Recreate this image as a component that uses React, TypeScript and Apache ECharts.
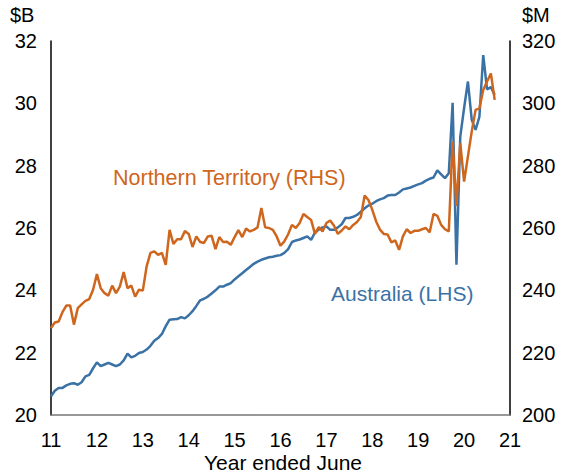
import React, { useEffect, useRef } from "react";
import * as echarts from "echarts";

// Monthly observations; index 0 = start of year label 11
const START_YEAR = 11;
const X_TICKS = [11, 12, 13, 14, 15, 16, 17, 18, 19, 20, 21];
const LEFT_TICKS = [20, 22, 24, 26, 28, 30, 32];
const RIGHT_TICKS = [200, 220, 240, 260, 280, 300, 320];

// Australia ($B, LHS)
const australia = [
  20.6, 20.78, 20.87, 20.87, 20.95, 21.0, 21.02, 20.97, 21.05, 21.24,
  21.29, 21.5, 21.69, 21.57, 21.62, 21.67, 21.62, 21.57, 21.62, 21.75,
  21.97, 21.85, 21.9, 21.99, 22.02, 22.1, 22.22, 22.38, 22.47, 22.6,
  22.85, 23.06, 23.07, 23.08, 23.14, 23.1, 23.2, 23.33, 23.5, 23.68,
  23.73, 23.8, 23.9, 24.0, 24.12, 24.12, 24.18, 24.23, 24.35, 24.45,
  24.55, 24.65, 24.75, 24.85, 24.92, 24.98, 25.02, 25.06, 25.08, 25.11,
  25.13, 25.2, 25.32, 25.55, 25.6, 25.63, 25.68, 25.73, 25.62, 25.85,
  25.95, 26.02, 26.05, 25.94, 25.94, 26.02, 26.12, 26.32, 26.32, 26.36,
  26.42, 26.52, 26.63, 26.72, 26.78, 26.86, 26.92, 26.96, 27.04, 27.06,
  27.06, 27.14, 27.24, 27.27, 27.3, 27.35, 27.4, 27.44, 27.52, 27.58,
  27.62, 27.85, 27.72, 27.6, 27.76, 30.02, 24.82, 28.93, 29.85, 30.7,
  29.47, 29.15, 29.57, 31.55, 30.45, 30.52, 30.27,
];

// Northern Territory ($M, RHS)
const northernTerritory = [
  227.9, 229.7, 230.0, 233.0, 235.1, 235.1, 229.0, 234.3, 235.5, 236.6,
  237.2, 240.2, 245.2, 240.7, 239.1, 238.3, 241.5, 239.1, 241.2, 245.9,
  240.7, 241.5, 238.0, 240.2, 239.9, 247.7, 252.0, 252.5, 251.4, 252.0,
  248.2, 259.4, 254.9, 256.4, 256.4, 259.0, 258.1, 253.9, 257.3, 255.5,
  255.2, 257.3, 257.5, 253.2, 257.1, 255.5, 255.6, 254.6, 257.1, 259.3,
  257.1, 259.8, 258.9, 259.4, 260.2, 266.4, 260.2, 260.0, 259.4, 257.3,
  254.3, 255.7, 258.0, 261.0, 260.0, 261.6, 264.5, 263.5, 262.6, 258.1,
  260.3, 258.9, 261.6, 262.4, 260.7, 258.1, 259.2, 260.5, 259.6, 261.0,
  261.9, 263.5, 270.4, 269.0, 265.8, 262.1, 259.5, 258.1, 257.9, 255.4,
  256.0, 253.0, 257.3, 259.6, 258.4, 259.1, 259.1, 259.6, 260.0, 258.6,
  264.5, 263.9, 261.0, 259.6, 258.9, 287.7, 267.1, 287.2, 274.9, 283.0,
  291.0, 297.9, 298.4, 304.3, 307.0, 309.6, 301.1,
];

const BLUE = "#3A72A6";
const ORANGE = "#CF661D";
const FONT = "Liberation Sans, Arial, sans-serif";

export default function App() {
  const ref = useRef<HTMLDivElement>(null);

  useEffect(() => {
    if (!ref.current) return;
    const chart = echarts.init(ref.current, null, { renderer: "svg" });
    const toX = (i: number) => START_YEAR + i / 12;
    const ausData = australia.map((v, i) => [toX(i), v]);
    const ntData = northernTerritory.map((v, i) => [toX(i), v]);

    const labelStyle = { color: "#000", fontSize: 20, fontFamily: FONT };

    chart.setOption({
      animation: false,
      grid: { left: 51, right: 55, top: 41, bottom: 61, containLabel: false },
      xAxis: {
        type: "value",
        min: X_TICKS[0],
        max: X_TICKS[X_TICKS.length - 1],
        interval: 1,
        axisLine: { show: true, lineStyle: { color: "#777", width: 1.5 } },
        axisTick: { show: false },
        splitLine: { show: false },
        axisLabel: { ...labelStyle, margin: 15, formatter: (v: number) => String(v) },
      },
      yAxis: [
        {
          type: "value",
          position: "left",
          min: LEFT_TICKS[0],
          max: LEFT_TICKS[LEFT_TICKS.length - 1],
          interval: 2,
          axisLine: { show: true, lineStyle: { color: "#000", width: 1.5 } },
          axisTick: { show: false },
          splitLine: { show: false },
          axisLabel: { ...labelStyle, margin: 14 },
        },
        {
          type: "value",
          position: "right",
          min: RIGHT_TICKS[0],
          max: RIGHT_TICKS[RIGHT_TICKS.length - 1],
          interval: 20,
          axisLine: { show: true, lineStyle: { color: "#000", width: 1.5 } },
          axisTick: { show: false },
          splitLine: { show: false },
          axisLabel: { ...labelStyle, margin: 12 },
        },
      ],
      series: [
        {
          name: "Australia (LHS)",
          type: "line",
          yAxisIndex: 0,
          data: ausData,
          showSymbol: false,
          lineStyle: { color: BLUE, width: 2.5 },
          itemStyle: { color: BLUE },
          z: 2,
        },
        {
          name: "Northern Territory (RHS)",
          type: "line",
          yAxisIndex: 1,
          data: ntData,
          showSymbol: false,
          lineStyle: { color: ORANGE, width: 2.5 },
          itemStyle: { color: ORANGE },
          z: 3,
        },
      ],
      graphic: [
        { type: "text", left: 10, top: 5, style: { text: "$B", ...labelStyle, fill: "#000" } },
        { type: "text", left: 522, top: 5, style: { text: "$M", ...labelStyle, fill: "#000" } },
        {
          type: "text",
          left: 204,
          top: 452,
          style: { text: "Year ended June", fontSize: 21, fontFamily: FONT, fill: "#000" },
        },
        {
          type: "text",
          left: 113,
          top: 167,
          style: { text: "Northern Territory (RHS)", fontSize: 21.5, fontFamily: FONT, fill: ORANGE },
        },
        {
          type: "text",
          left: 331,
          top: 283,
          style: { text: "Australia (LHS)", fontSize: 21, fontFamily: FONT, fill: BLUE },
        },
      ],
    });
    return () => chart.dispose();
  }, []);

  return (
    <div
      ref={ref}
      style={{ position: "absolute", left: 0, top: 0, width: 565, height: 476, background: "#fff" }}
    />
  );
}
